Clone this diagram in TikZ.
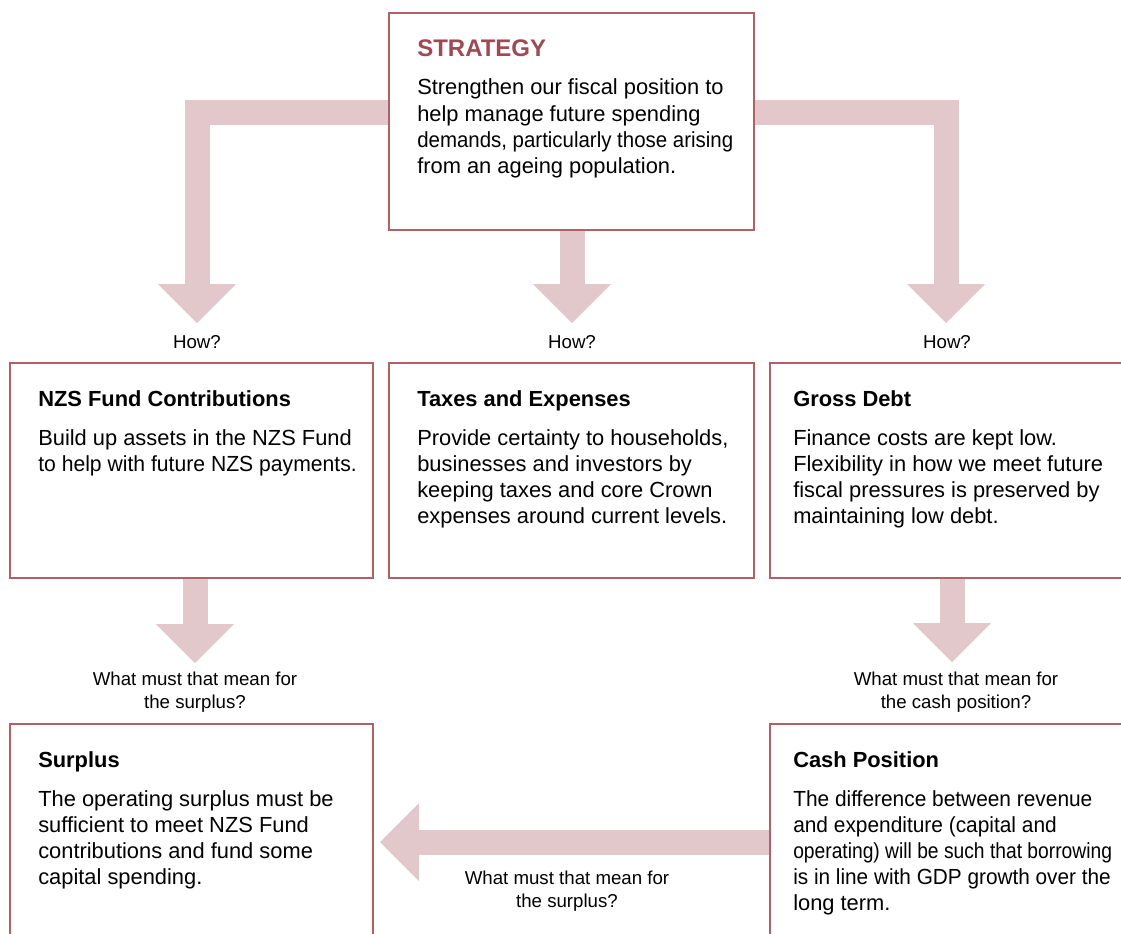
\documentclass[tikz,border=0pt]{standalone}
\usepackage{fontspec}
\usepackage{graphicx}
\setmainfont{Liberation Sans}
\usetikzlibrary{arrows.meta,backgrounds,calc}

\definecolor{framered}{RGB}{178,96,104}
\definecolor{headred}{RGB}{158,74,84}
\definecolor{flowpink}{RGB}{226,200,202}

% lines that the source sets a little tighter
\newcommand{\squeeze}[2]{\scalebox{#1}[1]{#2}}

\begin{document}
\begin{tikzpicture}[%
    x=0.75pt, y=-0.75pt,
    panel/.style 2 args={
        draw=framered,
        line width=1.5pt,
        fill=white,
        rectangle,
        inner sep=0,
        outer sep=0,
        anchor=north west,
        minimum width=#1*0.75pt,
        minimum height=#2*0.75pt
        },
    paneltext/.style={
        anchor=north west,
        inner sep=0,
        align=left,
        font=\fontsize{16.4}{19.6}\selectfont
        },
    ask/.style={
        inner sep=0,
        align=center,
        font=\fontsize{14}{17.25}\selectfont
        },
    flow/.style={
        draw=flowpink,
        line width=18.75pt,
        line join=miter,
        -{Triangle[length=29.25pt,width=58.5pt,line width=0pt]}
        },
]

\useasboundingbox (0,0) rectangle (1121,933);
\clip (0,0) rectangle (1121,933);

% boxes
\node[panel={365}{217}] (strategy) at (389,13) {};
\node[panel={363}{215}] (nzs) at (10,363) {};
\node[panel={365}{215}] (taxes) at (389,363) {};
\node[panel={370}{215}] (debt) at (770,363) {};
\node[panel={363}{230}] (surplus) at (10,724) {};
\node[panel={370}{230}] (cash) at (770,724) {};

\node[paneltext] (strategyText) at ($(strategy.north west)+(28,26)$) {%
    {\fontsize{18}{19.6}\selectfont\bfseries\color{headred}STRATEGY}\\[9.6pt]
    Strengthen our fiscal position to\\
    help manage future spending\\
    \squeeze{0.935}{demands, particularly those arising}\\
    from an ageing population.};

\node[paneltext] (nzsText) at ($(nzs.north west)+(28,27)$) {%
    \textbf{NZS Fund Contributions}\\[9.6pt]
    Build up assets in the NZS Fund\\
    \squeeze{0.967}{to help with future NZS payments.}};

\node[paneltext] (taxesText) at ($(taxes.north west)+(28,27)$) {%
    \textbf{Taxes and Expenses}\\[9.6pt]
    Provide certainty to households,\\
    businesses and investors by\\
    keeping taxes and core Crown\\
    expenses around current levels.};

\node[paneltext] (debtText) at ($(debt.north west)+(23,27)$) {%
    \textbf{Gross Debt}\\[9.6pt]
    Finance costs are kept low.\\
    Flexibility in how we meet future\\
    fiscal pressures is preserved by\\
    maintaining low debt.};

\node[paneltext] (surplusText) at ($(surplus.north west)+(28,27)$) {%
    \textbf{Surplus}\\[9.6pt]
    The operating surplus must be\\
    sufficient to meet NZS Fund\\
    contributions and fund some\\
    capital spending.};

\node[paneltext] (cashText) at ($(cash.north west)+(23,27)$) {%
    \textbf{Cash Position}\\[9.6pt]
    \squeeze{0.955}{The difference between revenue}\\
    \squeeze{0.955}{and expenditure (capital and}\\
    \squeeze{0.88}{operating) will be such that borrowing}\\
    \squeeze{0.95}{is in line with GDP growth over the}\\
    long term.};

% questions
\foreach \nm/\x in {howL/197,howM/572,howR/947}
    \node[ask] (\nm) at (\x,342) {How?};
\node[ask] (askSurplus) at (195,692) {What must that mean for\\the surplus?};
\node[ask] (askCash) at (956,692) {What must that mean for\\the cash position?};
\node[ask] (askBack) at (567,891) {What must that mean for\\the surplus?};

\coordinate (tipL) at (197,323);
\coordinate (tipM) at (572,323);
\coordinate (tipR) at (946,323);
\coordinate (tipSL) at (195,663);
\coordinate (tipC) at (952,662);
\coordinate (tipS) at (380,842);

\begin{scope}[on background layer]
\draw[flow] (strategy.west |- 0,112) -| (tipL);
\draw[flow] (strategy.east |- 0,112) -| (tipR);
\draw[flow] (strategy.south -| tipM) -- (tipM);
\draw[flow] (nzs.south -| tipSL) -- (tipSL);
\draw[flow] (debt.south -| tipC) -- (tipC);
\draw[flow] (cash.west |- tipS) -- (tipS);
\end{scope}
\end{tikzpicture}
\end{document}
